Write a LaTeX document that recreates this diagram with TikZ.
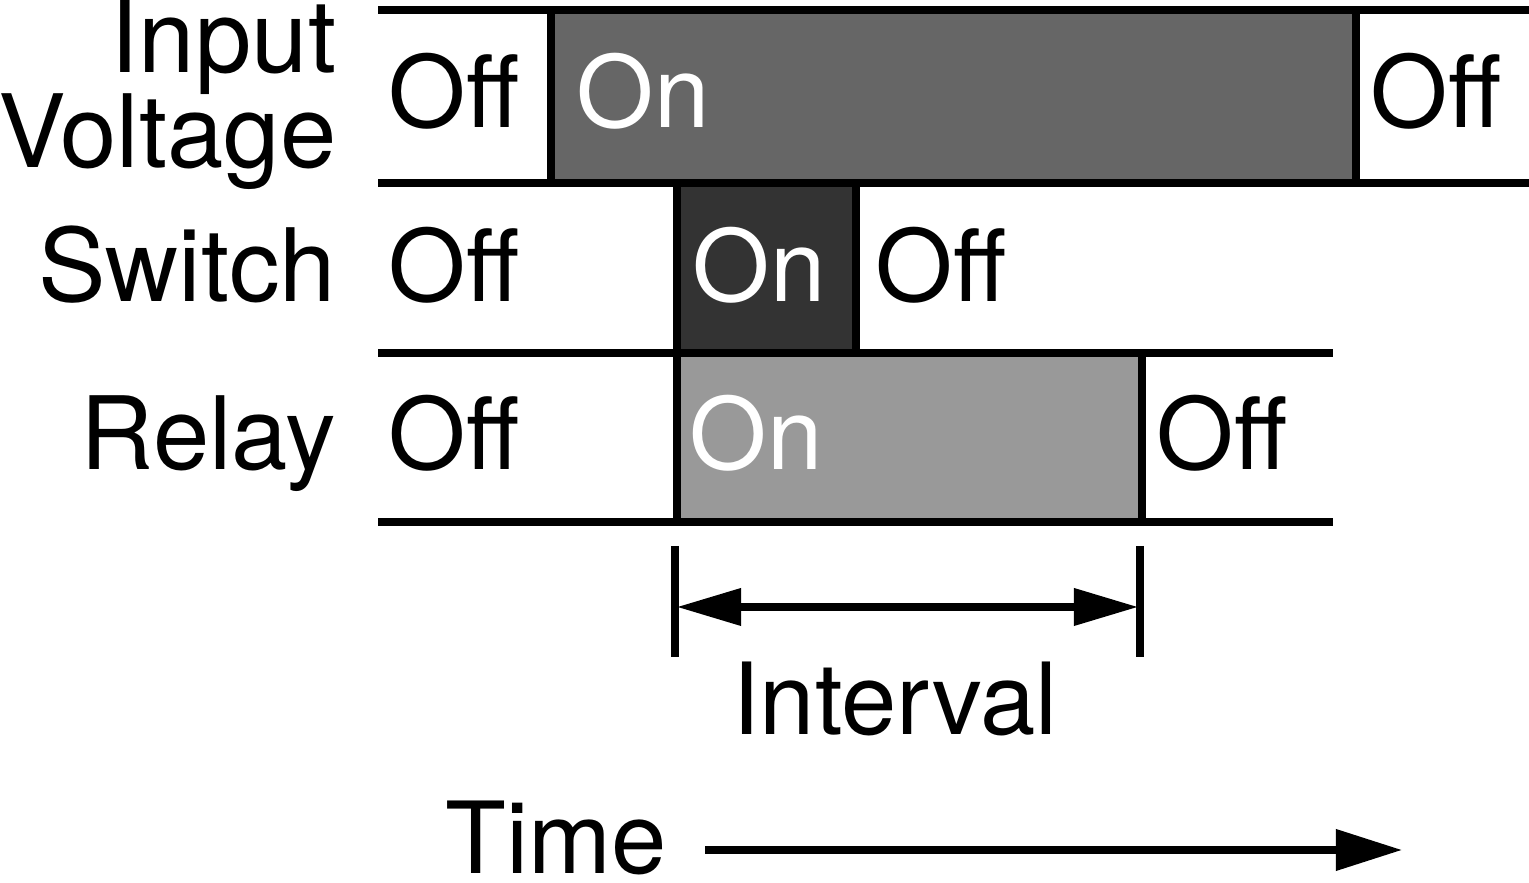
\documentclass[tikz,border=0pt]{standalone}
\usepackage{fontspec}
\setmainfont{TeX Gyre Heros}
\usetikzlibrary{arrows.meta}
\begin{document}
\begin{tikzpicture}[x=0.01cm,y=-0.01cm,
  lbl/.style={inner sep=0pt,font=\fontsize{28.3}{30}\selectfont},
  rowlbl/.style={inner sep=0pt,font=\fontsize{28.8}{30}\selectfont},
  rail/.style={line width=2pt},
  onbox/.style={draw=black,line width=2pt},
  dimarrow/.style={line width=2pt,{Triangle[length=0.64cm,width=0.36cm]}-{Triangle[length=0.64cm,width=0.36cm]}},
  timearrow/.style={line width=2pt,-{Triangle[length=0.66cm,width=0.4cm]}}]
\useasboundingbox (0,0) rectangle (1529,883);
% filled On boxes
\path[onbox,fill={rgb,255:red,102;green,102;blue,102}] (551,10) rectangle (1356,183);
\path[onbox,fill={rgb,255:red,51;green,51;blue,51}] (677,183) rectangle (856,353);
\path[onbox,fill={rgb,255:red,153;green,153;blue,153}] (677,353) rectangle (1142,522);
% rails
\draw[rail] (378,10) -- (1529,10);
\draw[rail] (378,183) -- (1529,183);
\draw[rail] (378,353) -- (1333,353);
\draw[rail] (378,522) -- (1333,522);
% row labels
\node[rowlbl,anchor=base east] (lin) at (337,73) {Input};
\node[rowlbl,anchor=base east] (lvo) at (337,168) {Voltage};
\node[rowlbl,anchor=base east] (lsw) at (337,302) {Switch};
\node[rowlbl,anchor=base east] (lre) at (337,470) {Relay};
% states
\node[lbl,anchor=base west] (i1) at (388,128) {Off};
\node[lbl,text=white,anchor=base west] (i2) at (576,128) {On};
\node[lbl,anchor=base west] (i3) at (1370,128) {Off};
\node[lbl,anchor=base west] (s1) at (388,302) {Off};
\node[lbl,text=white,anchor=base west] (s2) at (692,302) {On};
\node[lbl,anchor=base west] (s3) at (875,302) {Off};
\node[lbl,anchor=base west] (r1) at (388,470) {Off};
\node[lbl,text=white,anchor=base west] (r2) at (689,470) {On};
\node[lbl,anchor=base west] (r3) at (1156,470) {Off};
% interval
\coordinate (ta) at (675,546);
\coordinate (tb) at (675,657);
\coordinate (tc) at (1140,546);
\coordinate (td) at (1140,657);
\draw[rail] (ta) -- (tb);
\draw[rail] (tc) -- (td);
\coordinate (ia) at (677,607);
\coordinate (ib) at (1138,607);
\draw[dimarrow] (ia) -- (ib);
\node[lbl,anchor=base] (int) at (895,735) {Interval};
% time
\node[lbl,anchor=base west] (time) at (445,874) {Time};
\coordinate (ea) at (705,850);
\coordinate (eb) at (1402,850);
\draw[timearrow] (ea) -- (eb);
\end{tikzpicture}
\end{document}
